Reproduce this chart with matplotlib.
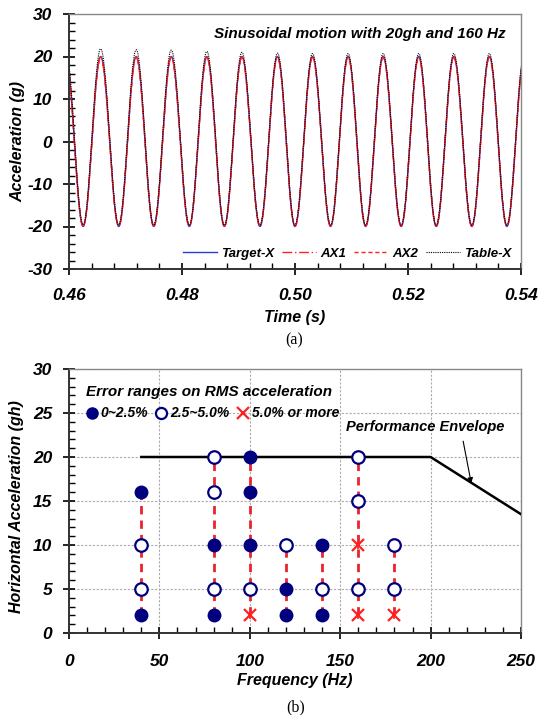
import numpy as np
import matplotlib
matplotlib.use("Agg")
import matplotlib.pyplot as plt
from matplotlib.ticker import MultipleLocator, FormatStrFormatter
from matplotlib.lines import Line2D
from matplotlib.font_manager import FontProperties

plt.rcParams["axes.unicode_minus"] = False

# ---------------- data: panel (a) ----------------
peak_t = [0.4594, 0.4656, 0.4719, 0.4781, 0.4844, 0.4906, 0.4969, 0.5031,
          0.5094, 0.5156, 0.5219, 0.5281, 0.5344, 0.5406]
trough_t = [0.4625, 0.4688, 0.4750, 0.4813, 0.4875, 0.4938, 0.5000,
            0.5063, 0.5125, 0.5188, 0.5250, 0.5313, 0.5375]
target_peaks = [20.0] * 14
target_troughs = [-20.0] * 13
ax1_peaks = [19.8] * 14
ax1_troughs = [-19.9] * 13
ax2_peaks = [19.9] * 14
ax2_troughs = [-19.8] * 13
table_peaks = [21.8, 21.8, 21.6, 21.5, 21.2, 21.0, 20.8, 20.7, 20.7, 20.7,
               20.7, 20.7, 20.7, 20.7]
table_troughs = [-19.6, -19.6, -19.7, -19.7, -19.7, -19.7, -19.7, -19.7,
                 -19.7, -19.7, -19.7, -19.7, -19.7]
series_names = ["Target-X", "AX1", "AX2", "Table-X"]

# ---------------- data: panel (b) ----------------
freq_lines = [40, 80, 100, 120, 140, 160, 180]
line_low = [2, 2, 2, 2, 2, 2, 2]
line_high = [16, 20, 20, 10, 10, 20, 10]
filled_f = [40, 40, 80, 80, 100, 100, 100, 120, 120, 140, 140]
filled_a = [16, 2, 10, 2, 20, 16, 10, 5, 2, 10, 2]
open_f = [40, 40, 80, 80, 80, 100, 120, 140, 160, 160, 160, 180, 180]
open_a = [10, 5, 20, 16, 5, 5, 10, 5, 20, 15, 5, 10, 5]
cross_f = [100, 160, 160, 180]
cross_a = [2, 10, 2, 2]
env_f = [40, 200, 250]
env_a = [20, 20, 13.5]
legend_labels = ["0~2.5%", "2.5~5.0%", "5.0% or more"]


def wave(peaks_t, peaks_v, troughs_t, troughs_v, n=40):
    ext = sorted(list(zip(peaks_t, peaks_v)) + list(zip(troughs_t, troughs_v)))
    ts, vs = [], []
    for (ta, va), (tb, vb) in zip(ext[:-1], ext[1:]):
        s = np.linspace(0, 1, n, endpoint=False)
        ts.append(ta + (tb - ta) * s)
        vs.append(va + (vb - va) * (1 - np.cos(np.pi * s)) / 2)
    ts.append([ext[-1][0]]); vs.append([ext[-1][1]])
    return np.concatenate(ts), np.concatenate(vs)


FONT = "Liberation Sans"
bi = dict(family=FONT, weight="bold", style="italic")
W, H = 539.0, 715.0

fig = plt.figure(figsize=(5.39, 7.15), dpi=100)


def style_axes(ax, xpad, ypad):
    ax.tick_params(which="major", direction="inout", length=8, width=1.2)
    ax.tick_params(which="minor", direction="in", length=4, width=1.0)
    ax.tick_params(axis="x", which="major", pad=xpad)
    ax.tick_params(axis="y", which="major", pad=ypad)
    for lab in ax.get_xticklabels() + ax.get_yticklabels():
        lab.set_fontproperties(FontProperties(size=12.5, **bi))
    for side in ["left", "bottom"]:
        ax.spines[side].set_linewidth(1.4)
        ax.spines[side].set_color("#333333")
    for side in ["right", "top"]:
        ax.spines[side].set_linewidth(1.0)
        ax.spines[side].set_color("#888888")


# ---------------- panel (a) ----------------
axA = fig.add_axes([69 / W, 1 - 269 / H, 452 / W, 255 / H])
specs = [
    (target_peaks, target_troughs, dict(color="#2b3bd0", lw=1.0, ls="-")),
    (ax1_peaks, ax1_troughs, dict(color="#ff2020", lw=1.0, ls=(0, (7, 2, 1, 2)))),
    (ax2_peaks, ax2_troughs, dict(color="#ff2020", lw=1.0, ls=(0, (3, 2)))),
    (table_peaks, table_troughs, dict(color="black", lw=0.8, ls=(0, (1, 1)))),
]
for name, (pk, tr, st) in zip(series_names, specs):
    t, v = wave(peak_t, pk, trough_t, tr)
    axA.plot(t, v, label=name, **st)

axA.set_xlim(0.46, 0.54)
axA.set_ylim(-30, 30)
axA.xaxis.set_major_locator(MultipleLocator(0.02))
axA.xaxis.set_minor_locator(MultipleLocator(0.004))
axA.yaxis.set_major_locator(MultipleLocator(10))
axA.yaxis.set_minor_locator(MultipleLocator(2))
axA.xaxis.set_major_formatter(FormatStrFormatter("%.2f"))
style_axes(axA, 10, 8)
axA.set_xlabel("Time (s)", fontsize=11.5, labelpad=5, **bi)
axA.set_ylabel("Acceleration (g)", fontsize=11.5, **bi)
axA.yaxis.set_label_coords((25 - 69) / 452, 0.5)
axA.text(0.967, 0.92, "Sinusoidal motion with 20gh and 160 Hz", transform=axA.transAxes,
         ha="right", va="center", fontsize=11, **bi)
axA.legend(loc="lower right", ncol=4, frameon=False, handlelength=2.6,
           handletextpad=0.3, columnspacing=0.6, borderaxespad=0.3,
           prop=dict(size=9.5, **bi))

fig.text(294 / W, 1 - 340 / H, "(a)", ha="center", va="center",
         family="Liberation Serif", fontsize=11.5)

# ---------------- panel (b) ----------------
axB = fig.add_axes([69 / W, 1 - 633 / H, 452 / W, 264 / H])
axB.grid(True, which="major", color="#aaaaaa", ls=(0, (2, 1.5)), lw=0.8)
axB.set_axisbelow(True)
for f, lo, hi in zip(freq_lines, line_low, line_high):
    axB.plot([f, f], [lo, hi], color="#e8242e", lw=2.0, ls=(0, (3, 2.2)), zorder=2)
axB.plot(env_f, env_a, color="black", lw=1.8, zorder=3)
axB.plot(filled_f, filled_a, ls="none", marker="o", ms=9, color="#00007f", zorder=4)
axB.plot(open_f, open_a, ls="none", marker="o", ms=9, mfc="white", mec="#00007f",
         mew=1.6, zorder=4)
axB.plot(cross_f, cross_a, ls="none", marker="x", ms=9, mew=1.6, color="#ff2020", zorder=4)
axB.plot(cross_f, cross_a, ls="none", marker="|", ms=6, mew=1.2, color="#ff2020", zorder=4)

axB.set_xlim(0, 250)
axB.set_ylim(0, 30)
axB.xaxis.set_major_locator(MultipleLocator(50))
axB.xaxis.set_minor_locator(MultipleLocator(10))
axB.yaxis.set_major_locator(MultipleLocator(5))
axB.yaxis.set_minor_locator(MultipleLocator(1))
style_axes(axB, 11, 8)
axB.set_xlabel("Frequency (Hz)", fontsize=11.5, labelpad=3, **bi)
axB.set_ylabel("Horizontal Acceleration (gh)", fontsize=11.5, **bi)
axB.yaxis.set_label_coords((24 - 69) / 452, 0.48)

handles = [
    Line2D([], [], ls="none", marker="o", ms=8, color="#00007f"),
    Line2D([], [], ls="none", marker="o", ms=8, mfc="white", mec="#00007f", mew=1.6),
    Line2D([], [], ls="none", marker="x", ms=8, mew=1.6, color="#ff2020"),
]
axB.legend(handles, legend_labels, loc="upper left", bbox_to_anchor=(0.01, 0.985),
           ncol=3, frameon=False, handlelength=0.8, handletextpad=0.25,
           columnspacing=0.55, title="Error ranges on RMS acceleration",
           title_fontproperties=dict(size=11, **bi), alignment="left",
           prop=dict(size=10, **bi))

axB.text(197, 23.4, "Performance Envelope", ha="center", va="center", fontsize=10.5, **bi)
axB.annotate("", xy=(222.5, 17.0), xytext=(218, 21.8),
             arrowprops=dict(arrowstyle="-|>", color="black", lw=0.8,
                             shrinkA=0, shrinkB=0, mutation_scale=8))

fig.text(296 / W, 1 - 707 / H, "(b)", ha="center", va="center",
         family="Liberation Serif", fontsize=11.5)

fig.savefig("out.png", dpi=100)
